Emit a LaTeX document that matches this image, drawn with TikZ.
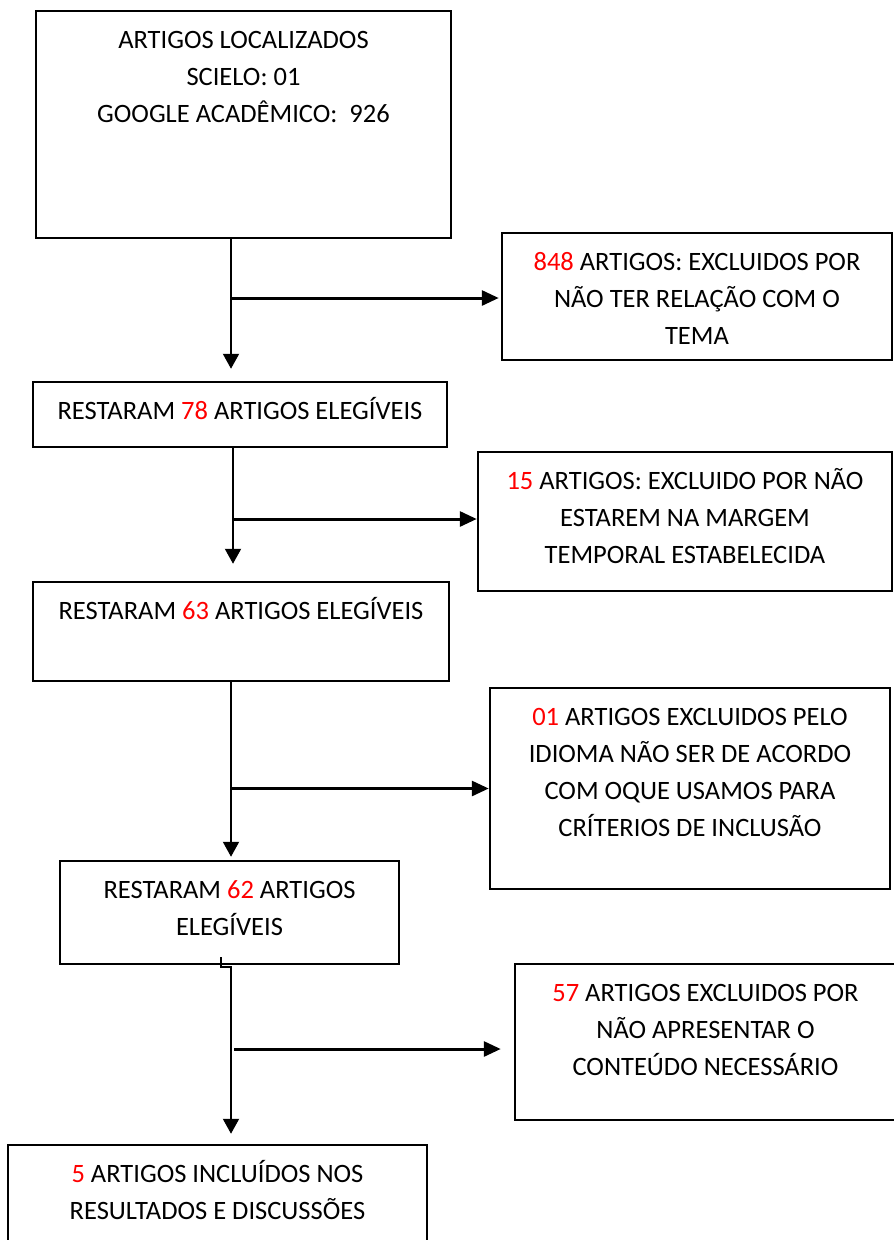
\documentclass[tikz,border=0pt]{standalone}
\usepackage{fontspec}
\setmainfont{Carlito}
\usetikzlibrary{arrows.meta}

\newcommand{\boxtxt}[3]{\parbox[c][#2][t]{#1}{\centering\fontsize{26.5}{37}\selectfont\rule{0pt}{37pt}#3}}
\newcommand{\num}[1]{\textcolor{red}{#1}}

\begin{document}
\begin{tikzpicture}[x=1pt,y=-1pt]

\tikzset{
    caixa/.style={draw, line width=2.5pt, inner sep=0pt},
    seta/.style={line width=2pt, -{Triangle[length=15pt,width=16pt]}},
    ramo/.style={line width=3pt, -{Triangle[length=17pt,width=15pt]}}
}
\useasboundingbox (0,0) rectangle (894,1240);

\node[caixa] (loc) at (243.5,124.5) {\boxtxt{415pt}{227pt}{ARTIGOS LOCALIZADOS\\SCIELO: 01\\GOOGLE ACADÊMICO:~~926}};
\node[caixa] (ex848) at (697,296.5) {\boxtxt{390pt}{127pt}{\num{848} ARTIGOS: EXCLUIDOS POR\\NÃO TER RELAÇÃO COM O\\TEMA}};
\node[caixa] (r78) at (240,414.5) {\boxtxt{414pt}{65pt}{RESTARAM \num{78} ARTIGOS ELEGÍVEIS}};
\node[caixa] (ex15) at (685,521.5) {\boxtxt{414pt}{139pt}{\num{15} ARTIGOS: EXCLUIDO POR NÃO\\ESTAREM NA MARGEM\\TEMPORAL ESTABELECIDA}};
\node[caixa] (r63) at (241,631.5) {\boxtxt{416pt}{99pt}{RESTARAM \num{63} ARTIGOS ELEGÍVEIS}};
\node[caixa] (ex01) at (690,788.5) {\boxtxt{400pt}{201pt}{\num{01} ARTIGOS EXCLUIDOS PELO\\IDIOMA NÃO SER DE ACORDO\\COM OQUE USAMOS PARA\\CRÍTERIOS DE INCLUSÃO}};
\node[caixa] (r62) at (229.5,912.5) {\boxtxt{339pt}{103pt}{RESTARAM \num{62} ARTIGOS\\ELEGÍVEIS}};
\node[caixa] (ex57) at (705.5,1042) {\boxtxt{381pt}{156pt}{\num{57} ARTIGOS EXCLUIDOS POR\\NÃO APRESENTAR O\\CONTEÚDO NECESSÁRIO}};
\node[caixa] (fim) at (217.5,1197.5) {\boxtxt{419pt}{105pt}{\num{5} ARTIGOS INCLUÍDOS NOS\\RESULTADOS E DISCUSSÕES}};

\coordinate (a1) at (231,0);
\coordinate (a2) at (233,0);
\coordinate (a3) at (231,0);
\coordinate (a4) at (231,0);

\draw[seta, shorten >=12pt] (loc.south -| a1) -- (r78.north -| a1);
\draw[ramo] ([yshift=-1.5pt]ex848.west -| a1) -- ([yshift=-1.5pt,xshift=-2pt]ex848.west);
\draw[seta, shorten >=17pt] (r78.south -| a2) -- (r63.north -| a2);
\draw[ramo] ([yshift=2.5pt]ex15.west -| a2) -- ([yshift=2.5pt]ex15.west);
\draw[seta, shorten >=3pt] (r63.south -| a3) -- (r62.north -| a3);
\draw[ramo] (ex01.west -| a3) -- (ex01.west);
\draw[seta, shorten >=10pt] ([xshift=-8.5pt,yshift=8pt]r62.south) -- ++(0,10) -- ++(10,0) -- (fim.north -| a4);
\draw[ramo, shorten >=13pt] ([xshift=3pt,yshift=-7pt]ex57.west -| a4) -- ([yshift=-7pt]ex57.west);

\end{tikzpicture}
\end{document}
